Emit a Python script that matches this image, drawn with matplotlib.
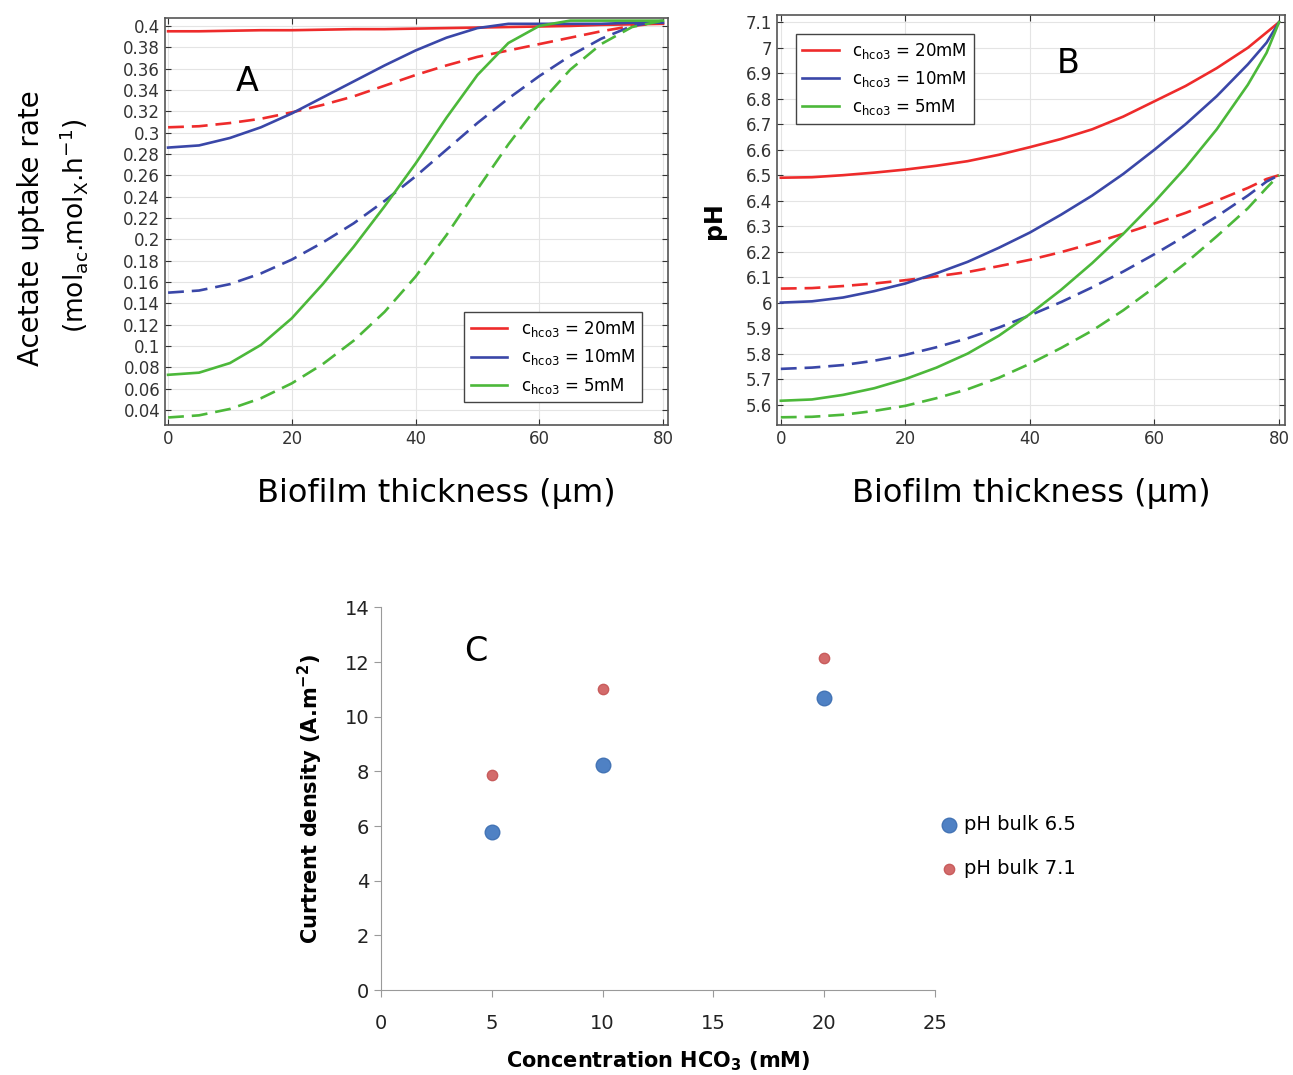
import numpy as np
import matplotlib.pyplot as plt
from matplotlib.ticker import FuncFormatter

# ---- data ----
thick = [0, 5, 10, 15, 20, 25, 30, 35, 40, 45, 50, 55, 60, 65, 70, 75, 80]

uptake_20 = [0.395, 0.395, 0.3955, 0.396, 0.396, 0.3965, 0.397, 0.397, 0.3975,
             0.398, 0.3985, 0.399, 0.3995, 0.400, 0.401, 0.4015, 0.402]
uptake_20d = [0.305, 0.306, 0.309, 0.313, 0.319, 0.326, 0.334, 0.344, 0.354,
              0.363, 0.371, 0.377, 0.383, 0.389, 0.395, 0.400, 0.403]
uptake_10 = [0.286, 0.288, 0.295, 0.305, 0.318, 0.333, 0.348, 0.363, 0.377,
             0.389, 0.398, 0.402, 0.402, 0.402, 0.402, 0.403, 0.403]
uptake_10d = [0.150, 0.152, 0.158, 0.168, 0.181, 0.197, 0.215, 0.236, 0.259,
              0.284, 0.309, 0.332, 0.353, 0.372, 0.388, 0.400, 0.405]
uptake_5 = [0.073, 0.075, 0.084, 0.101, 0.126, 0.158, 0.193, 0.231, 0.271,
            0.314, 0.354, 0.384, 0.400, 0.405, 0.405, 0.405, 0.405]
uptake_5d = [0.033, 0.035, 0.041, 0.051, 0.065, 0.083, 0.105, 0.132, 0.165,
             0.204, 0.247, 0.289, 0.327, 0.359, 0.383, 0.399, 0.405]

thick_b = [0, 5, 10, 15, 20, 25, 30, 35, 40, 45, 50, 55, 60, 65, 70, 75, 78, 80]
ph_20 = [6.49, 6.492, 6.50, 6.51, 6.522, 6.537, 6.555, 6.58, 6.61, 6.642, 6.68,
         6.73, 6.79, 6.85, 6.92, 7.0, 7.06, 7.1]
ph_20d = [6.055, 6.057, 6.065, 6.075, 6.088, 6.103, 6.12, 6.143, 6.168, 6.198,
          6.232, 6.27, 6.31, 6.352, 6.40, 6.45, 6.485, 6.5]
ph_10 = [6.0, 6.005, 6.02, 6.045, 6.075, 6.115, 6.16, 6.215, 6.275, 6.345,
         6.42, 6.505, 6.60, 6.70, 6.81, 6.935, 7.02, 7.1]
ph_10d = [5.74, 5.745, 5.755, 5.772, 5.795, 5.825, 5.86, 5.902, 5.95, 6.002,
          6.06, 6.122, 6.19, 6.262, 6.338, 6.42, 6.475, 6.5]
ph_5 = [5.615, 5.62, 5.638, 5.664, 5.70, 5.745, 5.80, 5.87, 5.955, 6.05, 6.155,
        6.27, 6.395, 6.53, 6.68, 6.855, 6.98, 7.1]
ph_5d = [5.55, 5.552, 5.56, 5.575, 5.595, 5.625, 5.66, 5.705, 5.76, 5.822,
         5.89, 5.97, 6.06, 6.155, 6.26, 6.37, 6.45, 6.5]

conc = [5, 10, 20]
cd_65 = [5.8, 8.25, 10.7]
cd_71 = [7.85, 11.0, 12.15]

labels = [r'c$_{\mathrm{hco3}}$ = 20mM', r'c$_{\mathrm{hco3}}$ = 10mM',
          r'c$_{\mathrm{hco3}}$ = 5mM']
cols = ['#ee2b2b', '#3a47a8', '#4cb83a']

fig = plt.figure(figsize=(12.93, 10.75), dpi=100)


def comsol_axes(ax):
    ax.grid(True, color='#e4e4e4', lw=0.8)
    ax.set_axisbelow(True)
    ax.tick_params(direction='in', top=True, right=True, labelsize=12,
                   colors='#333333', length=4)
    for s in ax.spines.values():
        s.set_color('#555555')
        s.set_linewidth(1.2)


# ---- panel A ----
axA = fig.add_axes([0.1276, 0.6047, 0.389, 0.3786])
solids = [uptake_20, uptake_10, uptake_5]
dashes = [uptake_20d, uptake_10d, uptake_5d]
for i in range(3):
    axA.plot(thick, solids[i], color=cols[i], lw=1.9, label=labels[i])
    axA.plot(thick, dashes[i], color=cols[i], lw=1.9, dashes=(6, 3))
axA.set_xlim(-0.5, 80.8)
axA.set_ylim(0.026, 0.4075)
axA.set_xticks([0, 20, 40, 60, 80])
axA.set_yticks(np.round(np.arange(0.04, 0.401, 0.02), 2))
axA.yaxis.set_major_formatter(FuncFormatter(lambda v, p: '%g' % v))
comsol_axes(axA)
axA.legend(loc='lower right', bbox_to_anchor=(0.965, 0.035), fancybox=False,
           edgecolor='#444444', fontsize=12, handlelength=2.2, framealpha=1)
axA.text(0.14, 0.82, 'A', transform=axA.transAxes, fontsize=24)
axA.set_xlabel('Biofilm thickness (µm)', fontsize=23)
axA.xaxis.set_label_coords(0.54, -0.13)
fig.text(0.024, 0.788, 'Acetate uptake rate', fontsize=20,
         rotation=90, ha='center', va='center')
fig.text(0.057, 0.79,
         r'(mol$_{\mathrm{ac}}$.mol$_{\mathrm{X}}$.h$^{-1}$)', fontsize=19,
         rotation=90, ha='center', va='center')

# ---- panel B ----
axB = fig.add_axes([0.601, 0.6047, 0.393, 0.381])
solids = [ph_20, ph_10, ph_5]
dashes = [ph_20d, ph_10d, ph_5d]
for i in range(3):
    axB.plot(thick_b, solids[i], color=cols[i], lw=1.9, label=labels[i])
    axB.plot(thick_b, dashes[i], color=cols[i], lw=1.9, dashes=(6, 3))
axB.set_xlim(-0.6, 81)
axB.set_ylim(5.52, 7.127)
axB.set_xticks([0, 20, 40, 60, 80])
axB.set_yticks(np.round(np.arange(5.6, 7.11, 0.1), 1))
axB.yaxis.set_major_formatter(FuncFormatter(lambda v, p: '%g' % v))
comsol_axes(axB)
axB.legend(loc='upper left', bbox_to_anchor=(0.02, 0.975), fancybox=False,
           edgecolor='#444444', fontsize=12, handlelength=2.2, framealpha=1)
axB.text(0.55, 0.86, 'B', transform=axB.transAxes, fontsize=24)
axB.set_xlabel('Biofilm thickness (µm)', fontsize=23)
axB.xaxis.set_label_coords(0.5, -0.13)
axB.set_ylabel('pH', fontsize=17, fontweight='bold', labelpad=14)

# ---- panel C ----
axC = fig.add_axes([0.2947, 0.079, 0.4285, 0.356])
axC.scatter(conc, cd_65, s=110, color='#4f81c4', edgecolor='#4474b5',
            label='pH bulk 6.5', zorder=3)
axC.scatter(conc, cd_71, s=55, color='#d36b6b', edgecolor='#c85c5c',
            label='pH bulk 7.1', zorder=3)
axC.set_xlim(0, 25)
axC.set_ylim(0, 14)
axC.set_xticks([0, 5, 10, 15, 20, 25])
axC.set_yticks(range(0, 15, 2))
for s in ['top', 'right']:
    axC.spines[s].set_visible(False)
for s in ['left', 'bottom']:
    axC.spines[s].set_color('#9a9a9a')
axC.tick_params(colors='#9a9a9a', labelcolor='#222222', labelsize=14,
                length=5, direction='out')
axC.tick_params(axis='x', pad=12)
axC.text(0.15, 0.86, 'C', transform=axC.transAxes, fontsize=24)
axC.set_ylabel(r'Curtrent density (A.m$^{\mathbf{-2}}$)', fontsize=15,
               fontweight='bold', labelpad=14)
axC.set_xlabel(r'Concentration HCO$_{\mathbf{3}}$ (mM)', fontsize=15,
               fontweight='bold', labelpad=12)
axC.legend(loc='center left', bbox_to_anchor=(0.965, 0.375), frameon=False,
           fontsize=14, handletextpad=-0.2, labelspacing=1.3, borderpad=0.2)

plt.savefig('out.png', dpi=100)
